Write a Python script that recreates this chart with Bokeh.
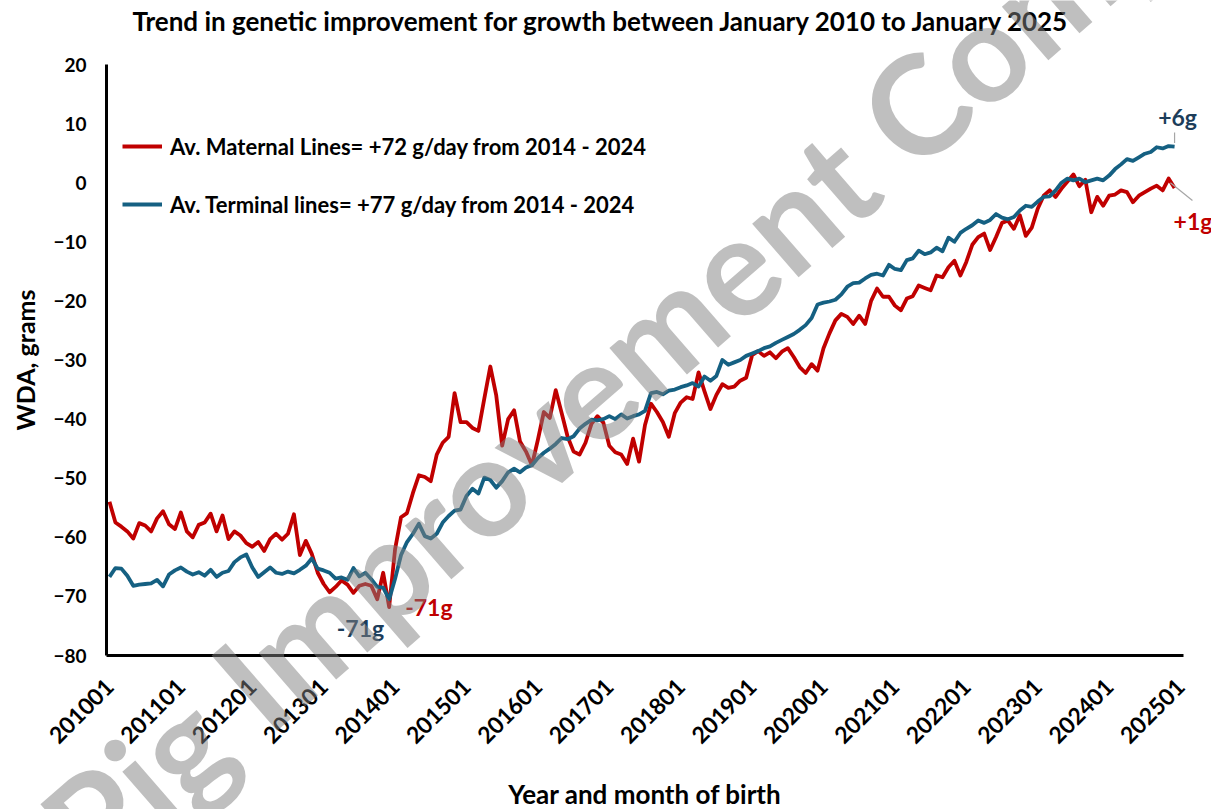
import math
import numpy as np
from bokeh.plotting import figure
from bokeh.models import Range1d, FixedTicker, Legend, LegendItem, Label
from bokeh.embed import file_html
from bokeh.resources import INLINE

# ---------------- data ----------------
tick_labels = ["201001", "201101", "201201", "201301", "201401", "201501", "201601", "201701",
               "201801", "201901", "202001", "202101", "202201", "202301", "202401", "202501"]
y_ticks = [-80, -70, -60, -50, -40, -30, -20, -10, 0, 10, 20]

# monthly values, Jan 2010 .. Dec 2024
maternal = [
    -54.0, -57.5, -58.2, -59.0, -60.2, -57.6, -58.0, -59.0, -56.8, -55.6,
    -57.8, -58.6, -55.8, -59.0, -60.0, -57.9, -57.5, -56.0, -59.0, -56.3,
    -60.3, -59.0, -59.7, -61.0, -61.6, -60.8, -62.3, -60.3, -59.4, -60.4,
    -59.4, -56.1, -63.0, -60.6, -62.8, -66.0, -67.9, -69.3, -68.4, -67.3,
    -68.0, -69.4, -68.2, -67.9, -68.2, -70.5, -66.0, -71.8, -62.0, -56.6,
    -55.9, -52.5, -49.5, -49.8, -50.5, -46.0, -44.0, -43.0, -35.6, -40.5,
    -40.5, -41.5, -42.0, -36.5, -31.1, -36.0, -44.5, -40.0, -38.5, -43.8,
    -45.5, -47.8, -43.5, -38.8, -39.8, -35.1, -39.0, -43.0, -45.5, -46.0,
    -44.0, -40.8, -39.5, -40.6, -44.5, -45.6, -46.0, -47.6, -43.3, -47.2,
    -41.0, -37.4, -38.8, -40.5, -43.0, -39.0, -37.2, -36.3, -36.6, -32.1,
    -35.3, -38.3, -35.9, -34.1, -34.7, -34.5, -33.5, -33.0, -29.2, -28.5,
    -29.3, -28.7, -29.7, -28.6, -28.0, -29.5, -31.2, -32.2, -30.7, -31.8,
    -28.0, -25.5, -23.3, -22.2, -22.7, -23.9, -22.5, -23.9, -20.0, -17.9,
    -19.3, -19.3, -20.8, -21.6, -19.6, -19.2, -17.4, -17.8, -18.2, -15.7,
    -16.0, -14.3, -13.2, -15.7, -13.4, -10.5, -9.2, -8.6, -11.4, -9.2,
    -6.8, -6.4, -7.8, -5.5, -9.0, -7.6, -4.4, -2.2, -1.3, -2.4,
    -1.0, 0.2, 1.4, -0.6, 0.5, -5.0, -2.4, -3.9, -2.2, -2.0,
    -1.3, -1.6, -3.3, -2.2, -1.6, -1.0, -0.5, -1.3, 0.7, -0.9,
]
terminal = [
    -66.7, -65.2, -65.3, -66.5, -68.2, -68.0, -67.9, -67.8, -67.2, -68.3,
    -66.3, -65.6, -65.1, -65.8, -66.3, -65.9, -66.5, -65.5, -66.7, -66.0,
    -65.7, -64.2, -63.4, -62.9, -65.1, -66.7, -65.9, -65.1, -66.0, -66.2,
    -65.8, -66.1, -65.5, -64.8, -63.6, -65.3, -65.6, -66.0, -67.0, -66.8,
    -67.2, -65.2, -66.6, -66.0, -67.1, -68.4, -68.5, -70.5, -67.0, -63.0,
    -60.8, -59.4, -57.7, -59.8, -60.2, -59.4, -57.5, -56.4, -55.5, -55.3,
    -53.0, -51.8, -52.6, -49.9, -50.3, -51.6, -50.5, -49.0, -48.4, -49.0,
    -48.2, -47.8, -46.6, -45.7, -45.0, -44.2, -43.2, -43.4, -42.9, -41.6,
    -40.8, -40.1, -40.2, -40.0, -39.5, -40.0, -39.2, -39.9, -39.5, -39.2,
    -38.6, -35.6, -35.4, -35.8, -35.2, -35.0, -34.6, -34.3, -33.9, -34.5,
    -32.8, -33.5, -32.7, -30.0, -30.8, -30.4, -30.0, -29.3, -28.9, -28.5,
    -28.0, -27.7, -27.1, -26.6, -26.1, -25.6, -24.9, -24.1, -22.9, -20.6,
    -20.3, -20.1, -19.8, -18.9, -17.6, -17.0, -16.9, -16.2, -15.6, -15.4,
    -15.7, -13.9, -14.6, -14.8, -13.1, -12.8, -11.5, -12.1, -11.8, -11.0,
    -11.6, -9.3, -10.0, -8.5, -7.8, -7.2, -6.4, -6.8, -6.3, -5.3,
    -5.9, -6.2, -5.8, -4.7, -3.9, -4.1, -3.2, -2.4, -2.3, -1.3,
    0.0, 0.7, 0.4, 0.7, 0.1, 0.4, 0.7, 0.4, 1.2, 2.3,
    3.1, 4.0, 3.7, 4.3, 4.9, 5.2, 6.0, 5.8, 6.2, 6.1,
]
maternal_label = "Av. Maternal Lines= +72 g/day from 2014 - 2024"
terminal_label = "Av. Terminal lines= +77 g/day from 2014 - 2024"
title_text = "Trend in genetic improvement for growth between January 2010 to January 2025"
min_labels = ["-71g", "-71g"]          # terminal, maternal minimum
end_labels = ["+6g", "+1g"]            # terminal, maternal last value
watermark = "Pig Improvement Company"

# ---------------- layout / styling ----------------
W, H = 1211, 809
PLOT_L, PLOT_R, PLOT_T, PLOT_B = 106, 1183, 64, 655   # plot-area box in pixels
RED = "#C00000"
BLUE = "#156082"
NAVY = "#1C3D5A"
FONT = "Lato"

n_cat = len(tick_labels) * 12 - 11          # 181 month categories 201001..202501
x_lo, x_hi = -0.5, n_cat - 0.5
y_lo, y_hi = min(y_ticks), max(y_ticks)
ppx = (PLOT_R - PLOT_L) / (x_hi - x_lo)
ppy = (PLOT_B - PLOT_T) / (y_hi - y_lo)
xr = Range1d(x_lo - PLOT_L / ppx, x_lo - PLOT_L / ppx + W / ppx)
yr = Range1d(y_hi + PLOT_T / ppy - H / ppy, y_hi + PLOT_T / ppy)

x = np.arange(len(maternal))

p = figure(width=W, height=H, output_backend="svg", toolbar_location=None,
           x_range=xr, y_range=yr,
           min_border_left=0, min_border_right=0, min_border_top=0, min_border_bottom=0,
           background_fill_color="white", border_fill_color="white")
p.outline_line_color = None
p.xgrid.visible = False
p.ygrid.visible = False
p.title.text = ""

r_mat = p.line(x, maternal, line_color=RED, line_width=3.8, line_join="round")
r_ter = p.line(x, terminal, line_color=BLUE, line_width=3.8, line_join="round")

# axes, drawn at the plot-area edges
for ax in (p.xaxis[0], p.yaxis[0]):
    ax.axis_line_color = "black"
    ax.axis_line_width = 3
    ax.major_tick_line_color = None
    ax.minor_tick_line_color = None
    ax.major_tick_out = 0
    ax.major_tick_in = 0
    ax.major_label_text_font = FONT
    ax.major_label_text_font_style = "bold"
    ax.major_label_text_color = "black"
    ax.axis_label_text_font = FONT
    ax.axis_label_text_font_style = "bold"
    ax.axis_label_text_color = "black"

p.yaxis.fixed_location = x_lo
p.yaxis.bounds = (y_lo, y_hi)
p.yaxis.ticker = FixedTicker(ticks=y_ticks)
p.yaxis.major_label_text_font_size = "19px"
p.yaxis.major_label_standoff = 20
p.yaxis.axis_label = "WDA, grams"
p.yaxis.axis_label_text_font_size = "25px"
p.yaxis.axis_label_standoff = 10

xt = [i * 12 for i in range(len(tick_labels))]
p.xaxis.fixed_location = y_lo
p.xaxis.bounds = (x_lo, x_hi)
p.xaxis.ticker = FixedTicker(ticks=xt)
p.xaxis.major_label_overrides = {t: lab for t, lab in zip(xt, tick_labels)}
p.xaxis.major_label_orientation = math.pi / 4
p.xaxis.major_label_text_font_size = "23px"
p.xaxis.major_label_standoff = 27
p.xaxis.axis_label = "Year and month of birth"
p.xaxis.axis_label_text_font_size = "26px"
p.xaxis.axis_label_standoff = 24

# title
p.add_layout(Label(x=601, y=H - 20, x_units="screen", y_units="screen", text=title_text,
                   text_align="center", text_baseline="middle", text_font=FONT,
                   text_font_style="bold", text_font_size="26px", text_color="black"))

# legend
legend = Legend(items=[LegendItem(label=maternal_label, renderers=[r_mat]),
                       LegendItem(label=terminal_label, renderers=[r_ter])],
                location=(122, H - 218), margin=0, padding=0, spacing=30,
                glyph_width=40, glyph_height=28, label_height=28, label_standoff=8,
                label_text_font=FONT, label_text_font_style="bold", label_text_font_size="22px",
                label_text_color="black", background_fill_alpha=0, border_line_alpha=0)
p.add_layout(legend, "center")

# point annotations
im_t = int(np.argmin(terminal))
im_m = int(np.argmin(maternal))
last = len(x) - 1
lab_style = dict(text_baseline="middle", text_font=FONT, text_font_style="bold", text_font_size="23px")
p.add_layout(Label(x=im_t, y=terminal[im_t], text=min_labels[0], x_offset=-5, y_offset=-29,
                   text_align="right", text_color=NAVY, **lab_style))
p.add_layout(Label(x=im_m, y=maternal[im_m], text=min_labels[1], x_offset=16, y_offset=0,
                   text_align="left", text_color=RED, **lab_style))
p.add_layout(Label(x=last, y=terminal[last], text=end_labels[0], x_offset=3, y_offset=30,
                   text_align="center", text_color=NAVY, **lab_style))
p.add_layout(Label(x=last, y=maternal[last], text=end_labels[1], x_offset=-1, y_offset=-33,
                   text_align="left", text_color=RED, **lab_style))
# leader lines for the end labels
p.segment(x0=[last, last - 0.7], y0=[terminal[last] + 0.6, maternal[last - 1] - 0.7],
          x1=[last, last + 3.0], y1=[terminal[last] + 2.4, maternal[last - 1] - 3.7],
          line_color="#A6A6A6", line_width=1.2)

# watermark
p.add_layout(Label(x=690, y=H - 300, x_units="screen", y_units="screen", text=watermark,
                   angle=41, angle_units="deg", text_align="center", text_baseline="middle",
                   text_font=FONT, text_font_style="bold", text_font_size="138px",
                   text_color="#7F7F7F", text_alpha=0.5))

open("out.html", "w").write(file_html(p, INLINE))
